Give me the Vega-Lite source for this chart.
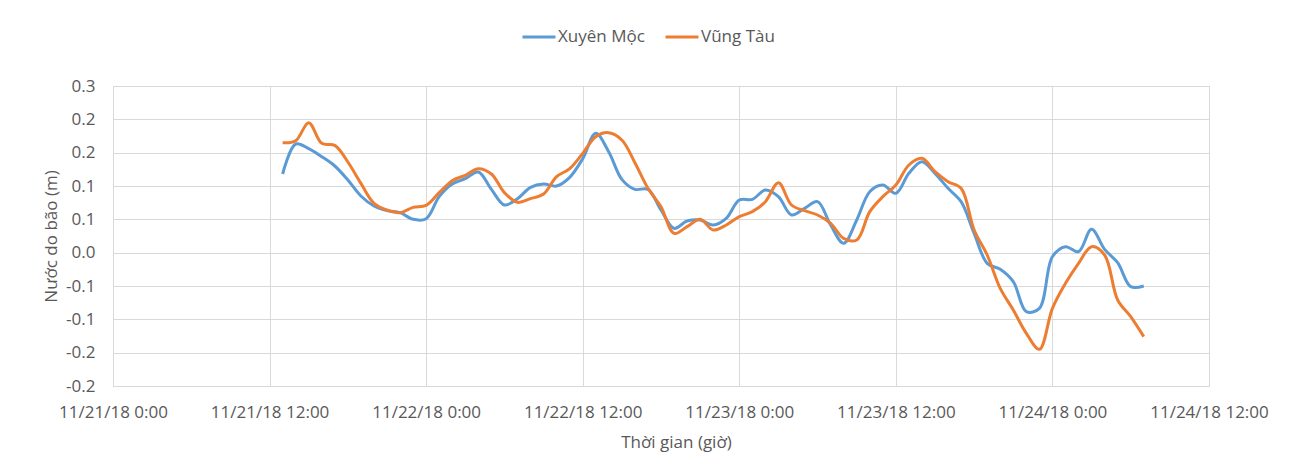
{
  "$schema": "https://vega.github.io/schema/vega-lite/v6.json",
  "width": 1096,
  "height": 300,
  "autosize": {"type": "none"},
  "padding": {"left": 113, "top": 86, "right": 86, "bottom": 79},
  "background": "white",
  "config": {
    "font": "Open Sans",
    "view": {"stroke": "#D9D9D9", "strokeWidth": 1},
    "axis": {
      "ticks": false,
      "domain": false,
      "gridColor": "#D9D9D9",
      "gridWidth": 1,
      "labelColor": "#595959",
      "labelFontSize": 17,
      "titleColor": "#595959",
      "titleFontSize": 17,
      "titleFontWeight": "normal"
    }
  },
  "data": {
    "format": {"parse": {"t": "utc:'%Y-%m-%d %H:%M'"}},
    "values": [
      {"t": "2018-11-21 13:00", "Xuyên Mộc": 0.118, "Vũng Tàu": 0.165},
      {"t": "2018-11-21 14:00", "Xuyên Mộc": 0.163, "Vũng Tàu": 0.168},
      {"t": "2018-11-21 15:00", "Xuyên Mộc": 0.156, "Vũng Tàu": 0.195},
      {"t": "2018-11-21 16:00", "Xuyên Mộc": 0.144, "Vũng Tàu": 0.164},
      {"t": "2018-11-21 17:00", "Xuyên Mộc": 0.130, "Vũng Tàu": 0.161},
      {"t": "2018-11-21 18:00", "Xuyên Mộc": 0.109, "Vũng Tàu": 0.136},
      {"t": "2018-11-21 19:00", "Xuyên Mộc": 0.085, "Vũng Tàu": 0.104},
      {"t": "2018-11-21 20:00", "Xuyên Mộc": 0.070, "Vũng Tàu": 0.074},
      {"t": "2018-11-21 21:00", "Xuyên Mộc": 0.063, "Vũng Tàu": 0.064},
      {"t": "2018-11-21 22:00", "Xuyên Mộc": 0.060, "Vũng Tàu": 0.060},
      {"t": "2018-11-21 23:00", "Xuyên Mộc": 0.050, "Vũng Tàu": 0.068},
      {"t": "2018-11-22 00:00", "Xuyên Mộc": 0.051, "Vũng Tàu": 0.071},
      {"t": "2018-11-22 01:00", "Xuyên Mộc": 0.084, "Vũng Tàu": 0.090},
      {"t": "2018-11-22 02:00", "Xuyên Mộc": 0.103, "Vũng Tàu": 0.108},
      {"t": "2018-11-22 03:00", "Xuyên Mộc": 0.111, "Vũng Tàu": 0.116},
      {"t": "2018-11-22 04:00", "Xuyên Mộc": 0.121, "Vũng Tàu": 0.126},
      {"t": "2018-11-22 05:00", "Xuyên Mộc": 0.095, "Vũng Tàu": 0.118},
      {"t": "2018-11-22 06:00", "Xuyên Mộc": 0.0715, "Vũng Tàu": 0.090},
      {"t": "2018-11-22 07:00", "Xuyên Mộc": 0.081, "Vũng Tàu": 0.0755},
      {"t": "2018-11-22 08:00", "Xuyên Mộc": 0.098, "Vũng Tàu": 0.081},
      {"t": "2018-11-22 09:00", "Xuyên Mộc": 0.103, "Vũng Tàu": 0.088},
      {"t": "2018-11-22 10:00", "Xuyên Mộc": 0.100, "Vũng Tàu": 0.114},
      {"t": "2018-11-22 11:00", "Xuyên Mộc": 0.113, "Vũng Tàu": 0.126},
      {"t": "2018-11-22 12:00", "Xuyên Mộc": 0.141, "Vũng Tàu": 0.149},
      {"t": "2018-11-22 13:00", "Xuyên Mộc": 0.179, "Vũng Tàu": 0.174},
      {"t": "2018-11-22 14:00", "Xuyên Mộc": 0.151, "Vũng Tàu": 0.180},
      {"t": "2018-11-22 15:00", "Xuyên Mộc": 0.110, "Vũng Tàu": 0.169},
      {"t": "2018-11-22 16:00", "Xuyên Mộc": 0.095, "Vũng Tàu": 0.135},
      {"t": "2018-11-22 17:00", "Xuyên Mộc": 0.095, "Vũng Tàu": 0.0965},
      {"t": "2018-11-22 18:00", "Xuyên Mộc": 0.064, "Vũng Tàu": 0.069},
      {"t": "2018-11-22 19:00", "Xuyên Mộc": 0.0365, "Vũng Tàu": 0.029},
      {"t": "2018-11-22 20:00", "Xuyên Mộc": 0.0475, "Vũng Tàu": 0.039},
      {"t": "2018-11-22 21:00", "Xuyên Mộc": 0.049, "Vũng Tàu": 0.050},
      {"t": "2018-11-22 22:00", "Xuyên Mộc": 0.0415, "Vũng Tàu": 0.034},
      {"t": "2018-11-22 23:00", "Xuyên Mộc": 0.0515, "Vũng Tàu": 0.0415},
      {"t": "2018-11-23 00:00", "Xuyên Mộc": 0.079, "Vũng Tàu": 0.054},
      {"t": "2018-11-23 01:00", "Xuyên Mộc": 0.080, "Vũng Tàu": 0.0615},
      {"t": "2018-11-23 02:00", "Xuyên Mộc": 0.094, "Vũng Tàu": 0.0765},
      {"t": "2018-11-23 03:00", "Xuyên Mộc": 0.084, "Vũng Tàu": 0.105},
      {"t": "2018-11-23 04:00", "Xuyên Mộc": 0.0565, "Vũng Tàu": 0.0715},
      {"t": "2018-11-23 05:00", "Xuyên Mộc": 0.0665, "Vũng Tàu": 0.063},
      {"t": "2018-11-23 06:00", "Xuyên Mộc": 0.0765, "Vũng Tàu": 0.0565},
      {"t": "2018-11-23 07:00", "Xuyên Mộc": 0.0415, "Vũng Tàu": 0.044},
      {"t": "2018-11-23 08:00", "Xuyên Mộc": 0.014, "Vũng Tàu": 0.0215},
      {"t": "2018-11-23 09:00", "Xuyên Mộc": 0.049, "Vũng Tàu": 0.019},
      {"t": "2018-11-23 10:00", "Xuyên Mộc": 0.0915, "Vũng Tàu": 0.0615},
      {"t": "2018-11-23 11:00", "Xuyên Mộc": 0.1015, "Vũng Tàu": 0.084},
      {"t": "2018-11-23 12:00", "Xuyên Mộc": 0.089, "Vũng Tàu": 0.1015},
      {"t": "2018-11-23 13:00", "Xuyên Mộc": 0.119, "Vũng Tàu": 0.1315},
      {"t": "2018-11-23 14:00", "Xuyên Mộc": 0.1365, "Vũng Tàu": 0.1415},
      {"t": "2018-11-23 15:00", "Xuyên Mộc": 0.119, "Vũng Tàu": 0.1215},
      {"t": "2018-11-23 16:00", "Xuyên Mộc": 0.0965, "Vũng Tàu": 0.1065},
      {"t": "2018-11-23 17:00", "Xuyên Mộc": 0.0765, "Vũng Tàu": 0.0965},
      {"t": "2018-11-23 18:00", "Xuyên Mộc": 0.029, "Vũng Tàu": 0.034},
      {"t": "2018-11-23 19:00", "Xuyên Mộc": -0.016, "Vũng Tàu": -0.0035},
      {"t": "2018-11-23 20:00", "Xuyên Mộc": -0.025, "Vũng Tàu": -0.0535},
      {"t": "2018-11-23 21:00", "Xuyên Mộc": -0.0435, "Vũng Tàu": -0.086},
      {"t": "2018-11-23 22:00", "Xuyên Mộc": -0.0885, "Vũng Tàu": -0.121},
      {"t": "2018-11-23 23:00", "Xuyên Mộc": -0.0835, "Vũng Tàu": -0.145},
      {"t": "2018-11-24 00:00", "Xuyên Mộc": -0.006, "Vũng Tàu": -0.0835},
      {"t": "2018-11-24 01:00", "Xuyên Mộc": 0.009, "Vũng Tàu": -0.046},
      {"t": "2018-11-24 02:00", "Xuyên Mộc": 0.0015, "Vũng Tàu": -0.016},
      {"t": "2018-11-24 03:00", "Xuyên Mộc": 0.035, "Vũng Tàu": 0.009},
      {"t": "2018-11-24 04:00", "Xuyên Mộc": 0.005, "Vũng Tàu": -0.0035},
      {"t": "2018-11-24 05:00", "Xuyên Mộc": -0.015, "Vũng Tàu": -0.071},
      {"t": "2018-11-24 06:00", "Xuyên Mộc": -0.051, "Vũng Tàu": -0.096},
      {"t": "2018-11-24 07:00", "Xuyên Mộc": -0.050, "Vũng Tàu": -0.126}
    ]
  },
  "transform": [{"fold": ["Xuyên Mộc", "Vũng Tàu"], "as": ["s", "v"]}],
  "mark": {"type": "line", "interpolate": "catmull-rom", "strokeWidth": 3},
  "encoding": {
    "x": {
      "field": "t",
      "type": "temporal",
      "scale": {"type": "utc", "domain": [1542758400000, 1543060800000]},
      "axis": {
        "values": [1542758400000, 1542801600000, 1542844800000, 1542888000000, 1542931200000, 1542974400000, 1543017600000, 1543060800000],
        "labelExpr": "utcFormat(datum.value, '%-m/%-d/%y %-H:%M')",
        "labelPadding": 18,
        "labelFlush": false,
        "labelOverlap": false,
        "title": "Thời gian (giờ)",
        "titlePadding": 14,
        "titleX": 563
      }
    },
    "y": {
      "field": "v",
      "type": "quantitative",
      "scale": {"domain": [-0.2, 0.25], "nice": false, "zero": false},
      "axis": {
        "values": [-0.2, -0.15, -0.1, -0.05, 0, 0.05, 0.1, 0.15, 0.2, 0.25],
        "labelExpr": "replace(format(datum.value + (datum.value >= 0 ? 1e-9 : -1e-9), '.1f'), '\u2212', '-')",
        "labelPadding": 18,
        "labelOverlap": false,
        "title": "Nước do bão (m)",
        "titlePadding": 5
      }
    },
    "color": {
      "field": "s",
      "type": "nominal",
      "scale": {"domain": ["Xuyên Mộc", "Vũng Tàu"], "range": ["#5B9BD5", "#ED7D31"]},
      "legend": {
        "orient": "none",
        "legendX": 408,
        "legendY": -67,
        "direction": "horizontal",
        "title": null,
        "symbolType": "stroke",
        "symbolSize": 1089,
        "symbolStrokeWidth": 3,
        "labelFontSize": 17,
        "labelColor": "#595959",
        "labelOffset": 1,
        "columnPadding": 14
      }
    }
  }
}
